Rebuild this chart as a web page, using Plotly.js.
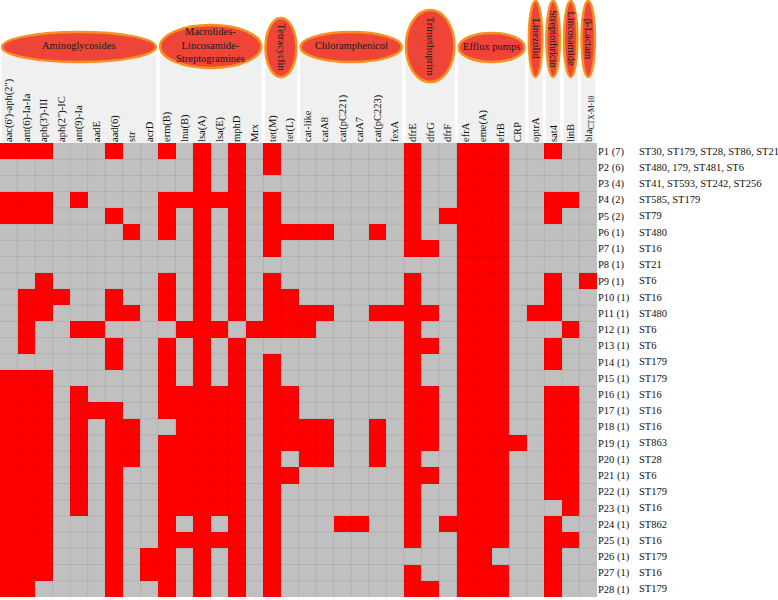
<!DOCTYPE html>
<html>
<head>
<meta charset="utf-8">
<script src="https://cdn.plot.ly/plotly-3.0.1.min.js"></script>
<style>
  body { margin: 0; background: #fff; }
  #chart { width: 778px; height: 600px; }
</style>
</head>
<body>
<div id="chart"></div>
<script>
// Resistance genes, in column order
const genes = [
    "aac(6')-aph(2\")", "ant(6)-Ia-Ia", "aph(3')-III", "aph(2\")-IC", "ant(9)-Ia", "aadE", "aad(6)", "str", "acrD",
    "erm(B)", "lnu(B)", "lsa(A)", "lsa(E)", "mphD", "Mrx",
    "tet(M)", "tet(L)",
    "cat-like", "catA8", "cat(pC221)", "catA7", "cat(pC223)", "fexA",
    "dfrE", "dfrG", "dfrF",
    "efrA", "eme(A)", "efrB", "CRP",
    "optrA", "sat4", "linB", "bla<sub>CTX-M-10</sub>"
];

// Antibiotic classes and how many gene columns each covers
const groupNames = ["Aminoglycosides", "Macrolides-<br>Lincosamide-<br>Streptogramines", "Tetracyclin",
    "Chloramphenicol", "Trimethoprim", "Efflux pumps", "Linezolid", "Streptothricin", "Lincosamide", "β-Lactam"];
const groupSizes = [9, 6, 2, 6, 3, 4, 1, 1, 1, 1];

// Profiles (rows)
const profiles = ["P1 (7)", "P2 (6)", "P3 (4)", "P4 (2)", "P5 (2)", "P6 (1)", "P7 (1)", "P8 (1)", "P9 (1)", "P10 (1)",
    "P11 (1)", "P12 (1)", "P13 (1)", "P14 (1)", "P15 (1)", "P16 (1)", "P17 (1)", "P18 (1)", "P19 (1)", "P20 (1)",
    "P21 (1)", "P22 (1)", "P23 (1)", "P24 (1)", "P25 (1)", "P26 (1)", "P27 (1)", "P28 (1)"];
const sequenceTypes = ["ST30, ST179, ST28, ST86, ST21", "ST480, 179, ST481, ST6", "ST41, ST593, ST242, ST256",
    "ST585, ST179", "ST79", "ST480", "ST16", "ST21", "ST6", "ST16", "ST480", "ST6", "ST6", "ST179", "ST179",
    "ST16", "ST16", "ST16", "ST863", "ST28", "ST6", "ST179", "ST16", "ST862", "ST16", "ST179", "ST16", "ST179"];

// Gene presence (1) / absence (0) per profile
const presence = [
    [1,1,1,0,0,0,1,0,0, 1,0,1,0,1,0, 1,0, 0,0,0,0,0,0, 1,0,0, 1,1,1,0, 0,1,0,0],
    [0,0,0,0,0,0,0,0,0, 0,0,1,0,1,0, 1,0, 0,0,0,0,0,0, 1,0,0, 1,1,1,0, 0,0,0,0],
    [0,0,0,0,0,0,0,0,0, 0,0,1,0,1,0, 0,0, 0,0,0,0,0,0, 1,0,0, 1,1,1,0, 0,0,0,0],
    [1,1,1,0,1,0,0,0,0, 1,1,1,1,1,0, 1,0, 0,0,0,0,0,0, 1,0,0, 1,1,1,0, 0,1,1,0],
    [1,1,1,0,0,0,1,0,0, 1,0,1,0,1,0, 1,0, 0,0,0,0,0,0, 1,0,1, 1,1,1,0, 0,1,0,0],
    [0,0,0,0,0,0,0,1,0, 1,0,1,0,1,0, 1,1, 1,1,0,0,1,0, 1,0,0, 1,1,1,0, 0,0,0,0],
    [0,0,0,0,0,0,0,0,0, 0,0,1,0,1,0, 1,0, 0,0,0,0,0,0, 1,1,0, 1,1,1,0, 0,0,0,0],
    [0,0,0,0,0,0,0,0,0, 0,0,1,0,1,0, 0,0, 0,0,0,0,0,0, 0,0,0, 1,1,1,0, 0,0,0,0],
    [0,0,1,0,0,0,0,0,0, 1,0,1,0,1,0, 1,0, 0,0,0,0,0,0, 1,0,0, 1,1,1,0, 0,1,0,1],
    [0,1,1,1,0,0,1,0,0, 1,0,1,0,1,0, 1,1, 0,0,0,0,0,0, 1,0,0, 1,1,1,0, 0,1,0,0],
    [0,1,1,0,0,0,1,1,0, 1,0,1,0,1,0, 1,1, 1,1,0,0,1,1, 1,1,0, 1,1,1,0, 1,1,0,0],
    [0,1,0,0,1,1,0,0,0, 0,1,1,1,0,1, 1,1, 1,0,0,0,0,0, 1,0,0, 1,1,1,0, 0,0,1,0],
    [0,1,0,0,0,0,1,0,0, 1,0,1,0,1,0, 0,0, 0,0,0,0,0,0, 1,1,0, 1,1,1,0, 0,1,0,0],
    [0,0,0,0,0,0,1,0,0, 1,0,1,0,1,0, 1,0, 0,0,0,0,0,0, 1,0,0, 1,1,1,0, 0,1,0,0],
    [1,1,1,0,0,0,0,0,0, 1,0,1,0,1,0, 1,0, 0,0,0,0,0,0, 1,0,0, 1,1,1,0, 0,0,0,0],
    [1,1,1,0,1,0,0,0,0, 1,1,1,1,1,0, 1,1, 0,0,0,0,0,0, 1,1,0, 1,1,1,0, 0,1,1,0],
    [1,1,1,0,1,1,1,0,0, 1,1,1,1,1,0, 1,1, 0,0,0,0,0,0, 1,1,0, 1,1,1,0, 0,1,1,0],
    [1,1,1,0,1,0,1,1,0, 0,1,1,1,1,0, 1,1, 1,1,0,0,1,0, 1,1,0, 1,1,1,0, 0,1,1,0],
    [1,1,1,0,1,0,1,1,0, 1,1,1,1,1,0, 1,1, 1,1,0,0,1,0, 1,1,0, 1,1,1,1, 0,1,1,0],
    [1,1,1,0,1,0,1,1,0, 1,1,1,1,1,0, 1,0, 1,1,0,0,1,0, 1,0,0, 1,1,1,0, 0,1,1,0],
    [1,1,1,0,1,0,1,0,0, 1,1,1,1,1,0, 1,1, 0,0,0,0,0,0, 1,1,0, 1,1,1,0, 0,1,1,0],
    [1,1,1,0,1,0,1,0,0, 1,1,1,1,1,0, 1,0, 0,0,0,0,0,0, 1,0,0, 1,1,1,0, 0,1,1,0],
    [1,1,1,0,1,0,1,0,0, 1,1,1,1,1,0, 1,0, 0,0,0,0,0,0, 1,0,0, 1,1,1,0, 0,0,1,0],
    [1,1,1,0,0,0,1,0,0, 1,0,1,0,1,0, 1,0, 0,0,1,1,0,0, 1,0,1, 1,1,1,0, 0,1,0,0],
    [1,1,1,0,0,0,1,0,0, 1,1,1,1,1,0, 1,0, 0,0,0,0,0,0, 1,0,0, 1,1,1,0, 0,1,1,0],
    [1,1,1,0,0,0,1,0,1, 1,0,1,0,1,0, 1,0, 0,0,0,0,0,0, 0,0,0, 1,1,0,0, 0,1,0,0],
    [1,1,1,0,0,0,1,0,1, 1,0,1,0,1,0, 1,0, 0,0,0,0,0,0, 1,0,0, 1,1,1,0, 0,1,0,0],
    [1,1,0,0,0,0,1,0,0, 1,0,1,0,1,0, 1,0, 0,0,0,0,0,0, 1,1,0, 1,1,1,0, 0,1,0,0]
];

// Header look: ellipse top/bottom in pixels from the top of the page, and text orientation
const ellipseTop =    [32, 25, 18, 32, 10, 33, 1, 1, 1, 1];
const ellipseBottom = [62, 68, 77, 62, 82, 62, 77, 77, 77, 77];
const ellipseVertical = [false, false, true, false, true, false, true, true, true, true];

const W = 778, H = 600;
const margin = { l: 0, r: 181, t: 143, b: 3 };
const plotW = W - margin.l - margin.r;
const plotH = H - margin.t - margin.b;
const pxToPaper = px => (H - margin.b - px) / plotH;

const serif = 'Liberation Serif, Times New Roman, serif';
const fontSize = 10.5;
const nCols = genes.length, nRows = profiles.length;
const colIdx = genes.map((_, i) => i);
const rowIdx = profiles.map((_, i) => i);

const heat = {
    type: 'heatmap',
    x: colIdx,
    y: rowIdx,
    z: presence,
    zmin: 0, zmax: 1,
    colorscale: [[0, '#C0C0C0'], [0.5, '#C0C0C0'], [0.5, '#FF0000'], [1, '#FF0000']],
    showscale: false,
    hoverinfo: 'skip'
};

const shapes = [];
const annotations = [];

// thin cell borders over the grid
for (let i = 1; i < nCols; i++) {
    shapes.push({ type: 'line', xref: 'x', yref: 'y', x0: i - 0.5, x1: i - 0.5, y0: -0.5, y1: nRows - 0.5,
        line: { color: 'rgba(0,0,0,0.08)', width: 1 }, layer: 'above' });
}
for (let j = 1; j < nRows; j++) {
    shapes.push({ type: 'line', xref: 'x', yref: 'y', x0: -0.5, x1: nCols - 0.5, y0: j - 0.5, y1: j - 0.5,
        line: { color: 'rgba(0,0,0,0.08)', width: 1 }, layer: 'above' });
}

// class panels + ellipses + names
let start = 0;
groupSizes.forEach((size, g) => {
    const x0 = start - 0.5, x1 = start + size - 0.5;
    shapes.push({ type: 'rect', xref: 'x', yref: 'paper', x0: x0 + 0.09, x1: x1 - 0.09,
        y0: 1, y1: pxToPaper(46), fillcolor: '#F0F0F0', line: { width: 0 }, layer: 'below' });
    shapes.push({ type: 'circle', xref: 'x', yref: 'paper', x0: x0 + 0.12, x1: x1 - 0.12,
        y0: pxToPaper(ellipseBottom[g]), y1: pxToPaper(ellipseTop[g]),
        fillcolor: '#EE4538', line: { color: '#F7901E', width: 2.5 }, layer: 'above' });
    annotations.push({ xref: 'x', yref: 'paper', x: (x0 + x1) / 2,
        y: pxToPaper((ellipseTop[g] + ellipseBottom[g]) / 2), xanchor: 'center', yanchor: 'middle',
        xshift: ellipseVertical[g] ? 1 : 0, yshift: ellipseVertical[g] ? 0 : 1,
        text: groupNames[g], showarrow: false, borderpad: 0,
        textangle: ellipseVertical[g] ? 90 : 0,
        font: { family: serif, size: fontSize, color: '#1a1a1a' } });
    start += size;
});

// sequence types next to profile names
sequenceTypes.forEach((st, j) => {
    annotations.push({ xref: 'paper', yref: 'y', x: (638 - margin.l) / plotW, y: j,
        xanchor: 'left', yanchor: 'middle', text: st, showarrow: false, borderpad: 0,
        font: { family: serif, size: fontSize, color: '#111' } });
});

const layout = {
    width: W, height: H,
    margin: margin,
    paper_bgcolor: '#fff',
    plot_bgcolor: '#C0C0C0',
    xaxis: {
        range: [-0.5, nCols - 0.5], side: 'top', tickvals: colIdx, ticktext: genes, tickangle: -90,
        ticks: '', showgrid: false, zeroline: false, showline: false, fixedrange: true,
        tickfont: { family: serif, size: fontSize, color: '#111' }
    },
    yaxis: {
        range: [nRows - 0.5, -0.5], side: 'right', tickvals: rowIdx, ticktext: profiles,
        ticks: '', showgrid: false, zeroline: false, showline: false, fixedrange: true,
        tickfont: { family: serif, size: fontSize, color: '#111' }
    },
    shapes: shapes,
    annotations: annotations,
    showlegend: false
};

Plotly.newPlot('chart', [heat], layout, { displayModeBar: false, staticPlot: true });
</script>
</body>
</html>
